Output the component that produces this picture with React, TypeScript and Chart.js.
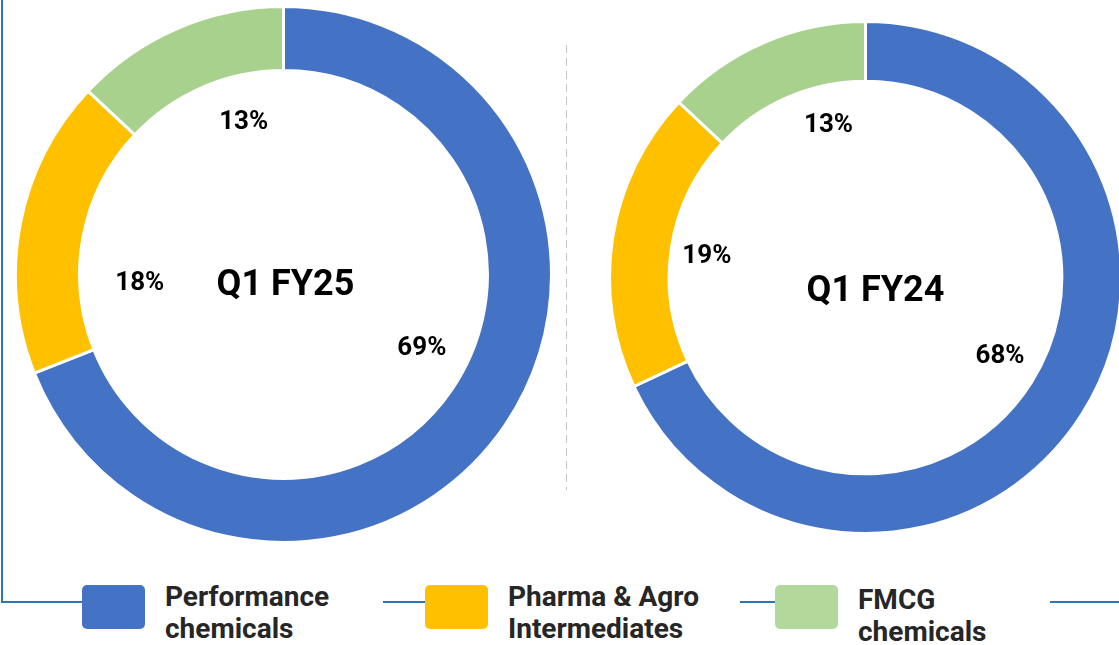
import React, { useEffect, useRef } from "react";
import { Chart, registerables } from "chart.js";

Chart.register(...registerables);

// ---------- data ----------
const categories = ["Performance chemicals", "Pharma & Agro Intermediates", "FMCG chemicals"];
const legendLines = [
  ["Performance", "chemicals"],
  ["Pharma & Agro", "Intermediates"],
  ["FMCG", "chemicals"],
];
const fy25Values = [69, 18, 13];
const fy24Values = [68, 19, 13];
const periodTitles = ["Q1 FY25", "Q1 FY24"];
const sliceColors = ["#4472C4", "#FFC000", "#A9D18E"];
const legendColors = ["#4472C4", "#FFC000", "#B3D89C"];

// ---------- layout ----------
const FONT = "Roboto, 'Open Sans', sans-serif";
const LINE_BLUE = "#2E75B6";

const ringLabelsPlugin = {
  id: "ringLabels",
  afterDraw(chart: any, _args: any, opts: any) {
    const ctx = chart.ctx;
    const meta = chart.getDatasetMeta(0);
    const values = chart.data.datasets[0].data as number[];
    ctx.save();
    ctx.fillStyle = "#000000";
    ctx.textAlign = "center";
    ctx.textBaseline = "middle";
    ctx.font = `bold ${opts.labelSize}px ${FONT}`;
    let cx = 0;
    let cy = 0;
    meta.data.forEach((arc: any, i: number) => {
      const p = arc.getProps(["x", "y", "startAngle", "endAngle"], true);
      cx = p.x;
      cy = p.y;
      const n = opts.nudge[i];
      const a = (p.startAngle + p.endAngle) / 2 + (n.da * Math.PI) / 180;
      ctx.fillText(`${values[i]}%`, p.x + Math.cos(a) * n.r, p.y + Math.sin(a) * n.r);
    });
    ctx.font = `bold ${opts.titleSize}px ${FONT}`;
    ctx.fillText(opts.title, cx + opts.titleOffset[0], cy + opts.titleOffset[1]);
    ctx.restore();
  },
};

type DonutProps = {
  values: number[];
  title: string;
  left: number;
  top: number;
  size: number;
  cutout: string;
  nudge: { da: number; r: number }[];
  titleOffset: [number, number];
};

function Donut({ values, title, left, top, size, cutout, nudge, titleOffset }: DonutProps) {
  const ref = useRef<HTMLCanvasElement | null>(null);
  useEffect(() => {
    if (!ref.current) return;
    const chart = new Chart(ref.current, {
      type: "doughnut",
      data: {
        labels: categories,
        datasets: [
          {
            data: values,
            backgroundColor: sliceColors,
            borderColor: "#FFFFFF",
            borderWidth: 3,
            hoverBorderWidth: 3,
            hoverOffset: 0,
            offset: 0,
          },
        ],
      },
      options: {
        responsive: false,
        animation: false,
        cutout,
        layout: { padding: 0 },
        events: [],
        plugins: {
          legend: { display: false },
          tooltip: { enabled: false },
          ringLabels: { nudge, title, titleOffset, labelSize: 26, titleSize: 36 },
        } as any,
      },
      plugins: [ringLabelsPlugin],
    });
    return () => chart.destroy();
  }, []);
  return (
    <canvas
      ref={ref}
      width={size}
      height={size}
      style={{ position: "absolute", left, top, width: size, height: size }}
    />
  );
}

export default function App() {
  const legendX = [
    { box: 82, text: 165, top: 581 },
    { box: 425, text: 508, top: 581 },
    { box: 775, text: 858, top: 584 },
  ];
  return (
    <div
      style={{
        position: "absolute",
        left: 0,
        top: 0,
        width: 1119,
        height: 645,
        overflow: "hidden",
        background: "#FFFFFF",
        fontFamily: FONT,
      }}
    >
      {/* frame lines */}
      <div style={{ position: "absolute", left: 1, top: 0, width: 2, height: 603, background: LINE_BLUE }} />
      <div style={{ position: "absolute", left: 1, top: 601, width: 82, height: 2, background: LINE_BLUE }} />
      <div style={{ position: "absolute", left: 383, top: 601, width: 43, height: 2, background: LINE_BLUE }} />
      <div style={{ position: "absolute", left: 740, top: 601, width: 36, height: 2, background: LINE_BLUE }} />
      <div style={{ position: "absolute", left: 1050, top: 601, width: 69, height: 2, background: LINE_BLUE }} />
      {/* dashed separator */}
      <div
        style={{
          position: "absolute",
          left: 566,
          top: 45,
          width: 1,
          height: 445,
          background: "repeating-linear-gradient(to bottom, #C4C4C4 0px, #C4C4C4 8px, transparent 8px, transparent 13px)",
        }}
      />

      <Donut
        values={fy25Values}
        title={periodTitles[0]}
        left={14}
        top={5}
        size={539}
        cutout="76.1%"
        nudge={[
          { da: -6, r: 157 },
          { da: -14.4, r: 144 },
          { da: 8.7, r: 157 },
        ]}
        titleOffset={[2, 11]}
      />
      <Donut
        values={fy24Values}
        title={periodTitles[1]}
        left={608}
        top={20}
        size={515}
        cutout="76.7%"
        nudge={[
          { da: -2, r: 156 },
          { da: -1.5, r: 160 },
          { da: 9.7, r: 156 },
        ]}
        titleOffset={[10, 14]}
      />

      {/* legend */}
      {categories.map((c, i) => (
        <React.Fragment key={c}>
          <div
            style={{
              position: "absolute",
              left: legendX[i].box,
              top: 585,
              width: 63,
              height: 44,
              borderRadius: 5,
              background: legendColors[i],
            }}
          />
          <div
            style={{
              position: "absolute",
              left: legendX[i].text,
              top: legendX[i].top,
              fontSize: 28,
              lineHeight: "32px",
              fontWeight: 700,
              color: "#262626",
              whiteSpace: "nowrap",
            }}
          >
            {legendLines[i].map((l) => (
              <div key={l}>{l}</div>
            ))}
          </div>
        </React.Fragment>
      ))}
    </div>
  );
}
